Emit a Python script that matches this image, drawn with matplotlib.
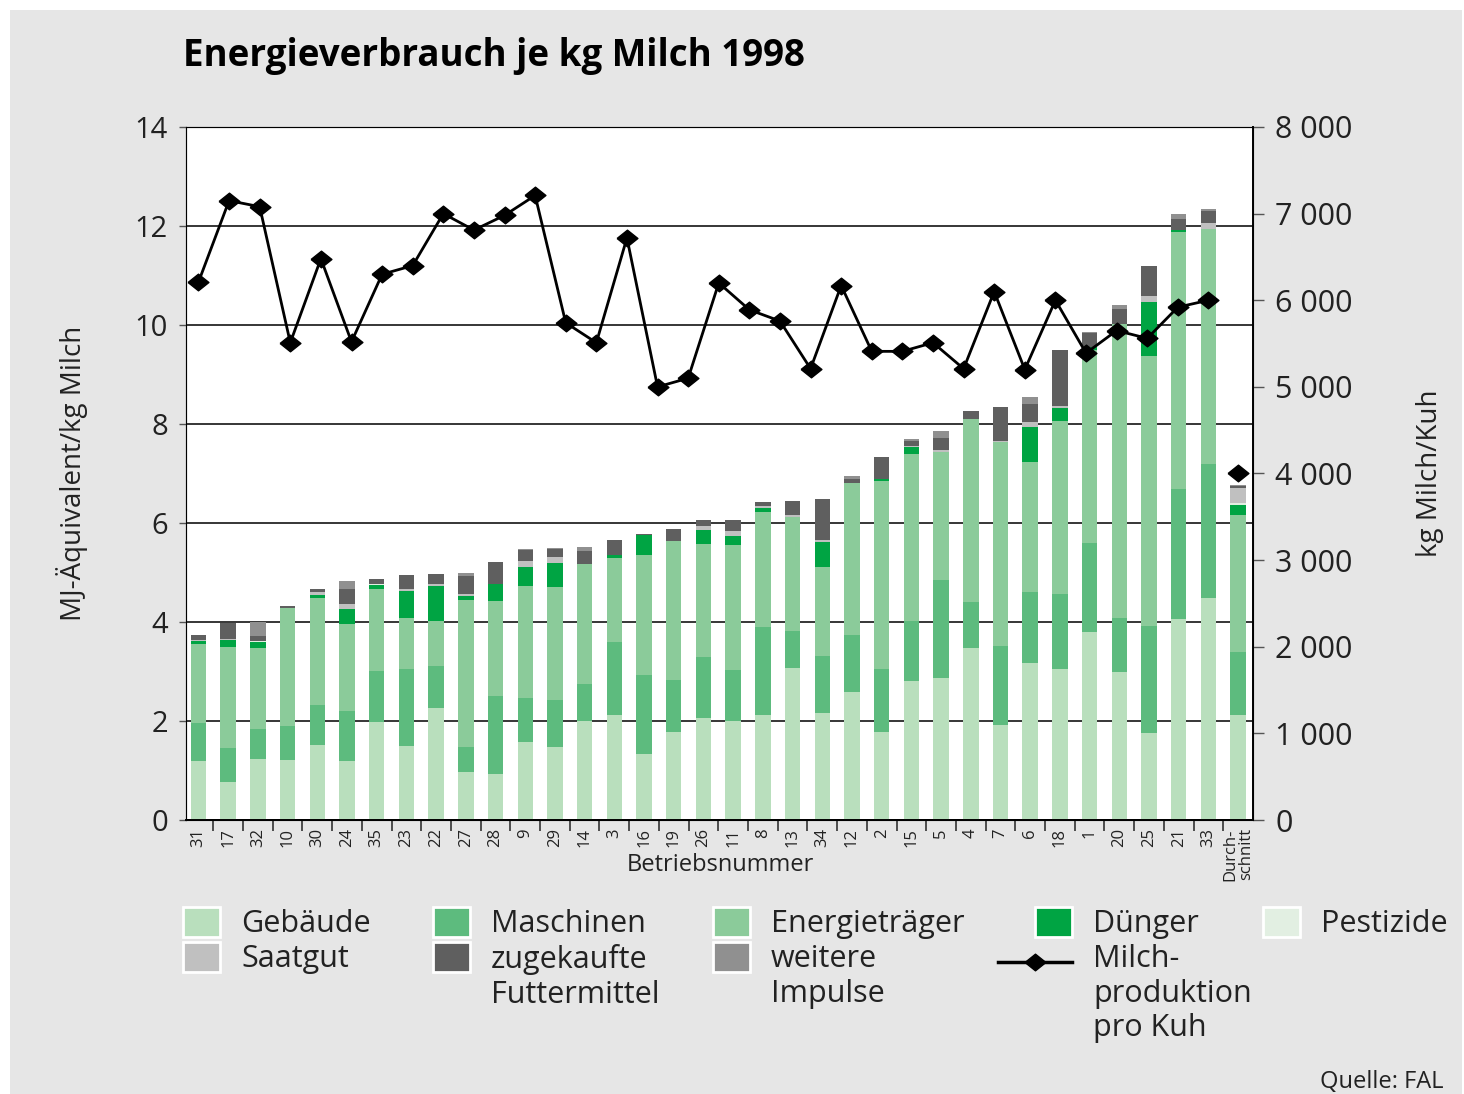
import numpy as np
import matplotlib
matplotlib.use("Agg")
import matplotlib.pyplot as plt
from matplotlib.patches import Rectangle
from matplotlib.lines import Line2D

# Betriebe in Reihenfolge der Balken (letzter = Durchschnitt)
betriebe = ["31", "17", "32", "10", "30", "24", "35", "23", "22", "27", "28", "9",
            "29", "14", "3", "16", "19", "26", "11", "8", "13", "34", "12", "2",
            "15", "5", "4", "7", "6", "18", "1", "20", "25", "21", "33", "Durch-\nschnitt"]

# MJ-Aequivalent/kg Milch je Kategorie
gebaeude = [1.20, 0.77, 1.23, 1.21, 1.52, 1.20, 1.97, 1.49, 2.26, 0.97, 0.93, 1.58,
            1.48, 2.00, 2.12, 1.33, 1.78, 2.07, 2.00, 2.12, 3.08, 2.17, 2.59, 1.78,
            2.80, 2.87, 3.47, 1.91, 3.17, 3.05, 3.80, 2.99, 1.76, 4.06, 4.48, 2.13]
maschinen = [0.75, 0.69, 0.61, 0.68, 0.80, 1.00, 1.04, 1.56, 0.85, 0.51, 1.57, 0.88,
             0.94, 0.75, 1.47, 1.60, 1.04, 1.22, 1.03, 1.78, 0.74, 1.14, 1.15, 1.27,
             1.22, 1.98, 0.94, 1.61, 1.43, 1.52, 1.79, 1.09, 2.16, 2.63, 2.71, 1.27]
energie = [1.61, 2.04, 1.64, 2.39, 2.17, 1.75, 1.66, 1.04, 0.91, 2.96, 1.93, 2.27,
           2.29, 2.42, 1.71, 2.42, 2.82, 2.29, 2.53, 2.32, 2.31, 1.81, 3.06, 3.80,
           3.37, 2.58, 3.69, 4.12, 2.63, 3.49, 3.90, 5.95, 5.46, 5.19, 4.75, 2.76]
duenger = [0.06, 0.14, 0.12, 0.00, 0.06, 0.31, 0.08, 0.54, 0.70, 0.09, 0.34, 0.39,
           0.48, 0.00, 0.06, 0.41, 0.00, 0.28, 0.18, 0.09, 0.00, 0.50, 0.00, 0.03,
           0.15, 0.00, 0.00, 0.00, 0.71, 0.26, 0.06, 0.00, 1.08, 0.04, 0.00, 0.20]
pestizide = [0.00, 0.00, 0.02, 0.00, 0.00, 0.00, 0.02, 0.00, 0.00, 0.00, 0.00, 0.00,
             0.00, 0.00, 0.00, 0.00, 0.00, 0.00, 0.00, 0.00, 0.00, 0.00, 0.00, 0.00,
             0.00, 0.00, 0.00, 0.00, 0.00, 0.00, 0.00, 0.00, 0.00, 0.00, 0.00, 0.04]
saatgut = [0.02, 0.02, 0.00, 0.01, 0.06, 0.10, 0.00, 0.03, 0.04, 0.04, 0.00, 0.11,
           0.12, 0.00, 0.00, 0.00, 0.00, 0.07, 0.10, 0.03, 0.03, 0.04, 0.00, 0.00,
           0.02, 0.04, 0.00, 0.02, 0.10, 0.05, 0.00, 0.00, 0.12, 0.00, 0.12, 0.30]
futter = [0.09, 0.31, 0.10, 0.03, 0.05, 0.31, 0.09, 0.29, 0.20, 0.35, 0.44, 0.22,
          0.17, 0.26, 0.30, 0.02, 0.23, 0.13, 0.23, 0.08, 0.29, 0.82, 0.09, 0.45,
          0.10, 0.25, 0.16, 0.69, 0.37, 1.12, 0.28, 0.30, 0.61, 0.23, 0.25, 0.05]
weitere = [0.00, 0.00, 0.28, 0.00, 0.00, 0.16, 0.00, 0.00, 0.00, 0.06, 0.00, 0.02,
           0.02, 0.08, 0.00, 0.00, 0.00, 0.00, 0.00, 0.00, 0.00, 0.00, 0.06, 0.00,
           0.04, 0.14, 0.00, 0.00, 0.14, 0.00, 0.02, 0.08, 0.00, 0.09, 0.03, 0.02]

# Milchproduktion pro Kuh (kg), Linie der Vorlage hat 34 Punkte
milch = [6210, 7150, 7080, 5510, 6480, 5520, 6300, 6400, 7000, 6810, 6980, 7210,
         5740, 5510, 6720, 5000, 5100, 6200, 5890, 5760, 5210, 6170, 5410, 5410,
         5510, 5210, 6100, 5200, 6000, 5390, 5650, 5560, 5920, 6000]
milch_schnitt = 4000

kategorien = ["Gebäude", "Maschinen", "Energieträger", "Dünger", "Pestizide",
              "Saatgut", "zugekaufte\nFuttermittel", "weitere\nImpulse"]
farben = ["#b9dfbd", "#5dbb7e", "#8bcb9a", "#00a443", "#e2efe2",
          "#c0c0c0", "#5f5f5f", "#909090"]
reihen = [gebaeude, maschinen, energie, duenger, pestizide, saatgut, futter, weitere]

W, H = 1464, 1094
plt.rcParams["font.family"] = ["Open Sans", "DejaVu Sans"]

fig = plt.figure(figsize=(W / 100, H / 100), dpi=100, facecolor="white")
fig.patches.append(Rectangle((10 / W, 0), 1452 / W, 1084 / H, transform=fig.transFigure,
                             facecolor="#e6e6e6", edgecolor="none", zorder=-10))

ax = fig.add_axes([186 / W, 1 - 820 / H, (1253 - 186) / W, (820 - 127) / H])
ax.set_facecolor("white")
x = np.arange(len(betriebe))
bottom = np.zeros(len(betriebe))
for werte, farbe in zip(reihen, farben):
    ax.bar(x, werte, width=0.52, bottom=bottom, color=farbe, edgecolor="none", zorder=2)
    bottom += np.array(werte)

ax.set_xlim(-0.42, 35.5)
ax.set_ylim(0, 14)
ax.set_yticks(range(0, 15, 2))
ax.yaxis.grid(True, color="black", lw=1.1)
ax.set_axisbelow(True)
ax.tick_params(axis="y", length=5, width=1, color="#555555", labelsize=21, pad=8,
               labelcolor="#222222")
ax.set_xticks(x)
ax.set_xticklabels(betriebe, rotation=90, fontsize=12, va="top", ha="center",
                   multialignment="right", linespacing=0.95)
ax.set_xticks(np.arange(0.5, 35, 1), minor=True)
ax.tick_params(axis="x", which="major", length=0, pad=6, labelcolor="#222222")
ax.tick_params(axis="x", which="minor", length=8, width=1.2, color="#333333")
for s in ["left", "top"]:
    ax.spines[s].set_color("#666666")
ax.spines["bottom"].set_linewidth(1.4)

ax2 = ax.twinx()
ax2.set_ylim(0, 8000)
ax2.set_yticks(range(0, 8001, 1000))
ax2.set_yticklabels([f"{v:,}".replace(",", " ") for v in range(0, 8001, 1000)])
ax2.tick_params(axis="y", length=8, width=1, color="#555555", labelsize=22, pad=8,
                labelcolor="#222222")
ax2.spines["right"].set_linewidth(1.4)
raute = [(-1, 0), (0, 0.8), (1, 0), (0, -0.8), (-1, 0)]
line_x = np.linspace(0, len(betriebe) - 2, len(milch))
ax2.plot(line_x, milch, color="black", lw=2, marker=raute, markersize=15, zorder=5)
ax2.plot([x[-1]], [milch_schnitt], ls="none", color="black", marker=raute, markersize=15)

fig.text(183 / W, 1 - 56 / H, "Energieverbrauch je kg Milch 1998", fontsize=26.5,
         fontweight="bold", va="center", ha="left", color="black")
fig.text(72 / W, 1 - 473 / H, "MJ-Äquivalent/kg Milch", rotation=90,
         fontsize=20, ha="center", va="center", color="#222222")
fig.text(1430 / W, 1 - 473 / H, "kg Milch/Kuh", rotation=90,
         fontsize=20, ha="center", va="center", color="#222222")
fig.text(720 / W, 1 - 865 / H, "Betriebsnummer", fontsize=17, ha="center", va="center",
         color="#222222")
fig.text(1444 / W, 1 - 1082 / H, "Quelle: FAL", fontsize=17, ha="right", va="center",
         color="#222222")

# Legende in Pixelkoordinaten
lg = fig.add_axes([0, 0, 1, 1], facecolor="none")
lg.set_xlim(0, W)
lg.set_ylim(H, 0)
lg.axis("off")
legende_pos = [(183, 922), (433, 922), (713, 922), (1035, 922), (1263, 922),
               (183, 957), (433, 957), (713, 957)]
for (px, py), name, farbe in zip(legende_pos, kategorien, farben):
    lg.add_patch(Rectangle((px, py - 15), 37, 30, facecolor=farbe, edgecolor="white", lw=2))
    lg.text(px + 58, py - 13, name, fontsize=22, va="top", ha="left", linespacing=1.2,
            color="#222222")
lg.add_line(Line2D([998, 1072], [962, 962], color="black", lw=2.5))
lg.plot([1035], [962], ls="none", color="black", marker=raute, markersize=15)
lg.text(1093, 957 - 13, "Milch-\nproduktion\npro Kuh", fontsize=22, va="top", ha="left",
        linespacing=1.2, color="#222222")

fig.savefig("out.png", dpi=100, facecolor=fig.get_facecolor())
